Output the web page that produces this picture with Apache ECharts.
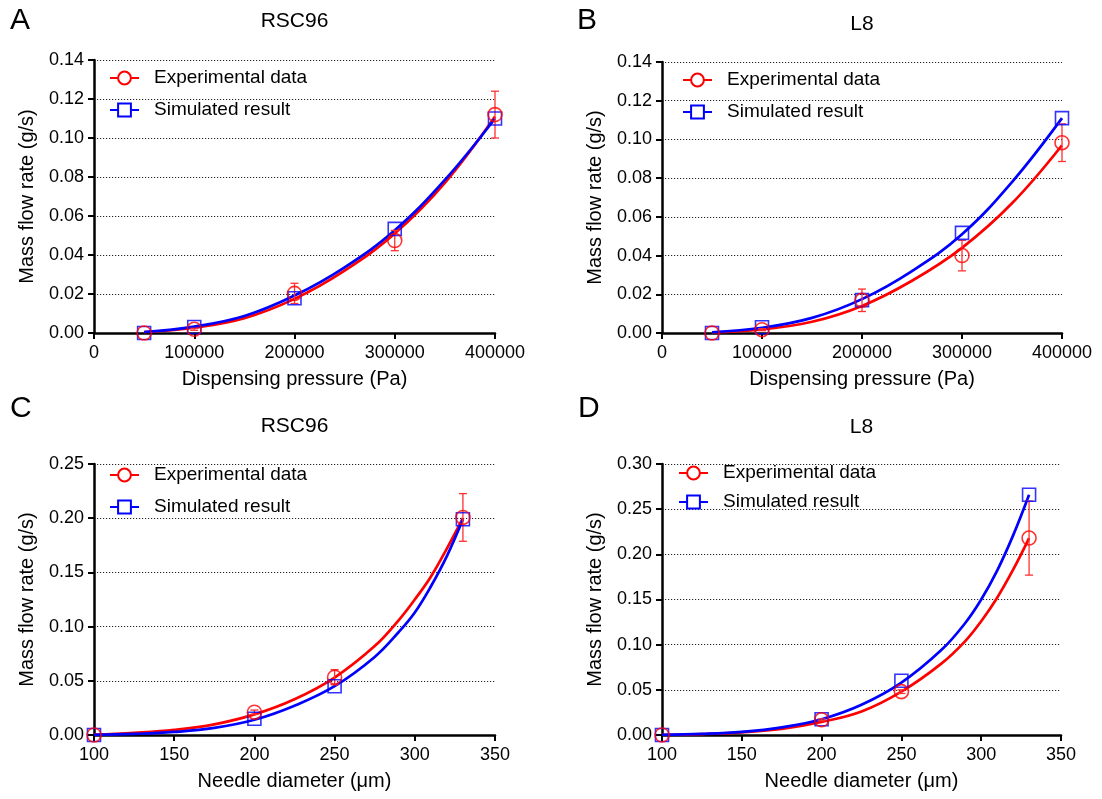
<!DOCTYPE html>
<html>
<head>
<meta charset="utf-8">
<script src="https://cdn.jsdelivr.net/npm/echarts@6/dist/echarts.min.js"></script>
<style>
html,body{margin:0;padding:0;background:#fff;}
#chart{width:1102px;height:799px;}
</style>
</head>
<body>
<div id="chart"></div>
<script>
// ---------- DATA ----------
const seriesNames = ['Experimental data', 'Simulated result'];
const panelLetters = ['A', 'B', 'C', 'D'];
const panelTitles = ['RSC96', 'L8', 'RSC96', 'L8'];

// Panels A & B : dispensing pressure (Pa)
const pressure = [50000, 100000, 200000, 300000, 400000];
const pressureFitX = [50000, 100000, 150000, 200000, 250000, 300000, 350000, 400000];

const rscPressExp = [0, 0.0019, 0.0203, 0.0474, 0.112];
const rscPressExpSD = [0, 0.0005, 0.0052, 0.0052, 0.012];
const rscPressSim = [0, 0.0031, 0.0178, 0.0534, 0.110];
const rscPressExpFit = [0.0004, 0.0027, 0.0076, 0.0175, 0.032, 0.051, 0.077, 0.111];
const rscPressSimFit = [0.0005, 0.0033, 0.0087, 0.0192, 0.0337, 0.0527, 0.0785, 0.110];

const l8PressExp = [0, 0.0017, 0.0169, 0.040, 0.0983];
const l8PressExpSD = [0, 0.0005, 0.0058, 0.0079, 0.0097];
const l8PressSim = [0, 0.003, 0.017, 0.0517, 0.111];
const l8PressExpFit = [0.0003, 0.0018, 0.0058, 0.014, 0.027, 0.044, 0.067, 0.097];
const l8PressSimFit = [0.0004, 0.0027, 0.0078, 0.0175, 0.032, 0.051, 0.078, 0.111];

// Panels C & D : needle diameter (um)
const diameter = [100, 200, 250, 330];
const diameterFitX = [100, 125, 150, 175, 200, 225, 250, 275, 290, 300, 310, 320, 330];

const rscDiaExp = [0, 0.021, 0.0533, 0.2007];
const rscDiaExpSD = [0, 0.002, 0.007, 0.022];
const rscDiaSim = [0, 0.015, 0.045, 0.199];
const rscDiaExpFit = [0.0003, 0.002, 0.0047, 0.0098, 0.019, 0.033, 0.053, 0.082, 0.106, 0.125, 0.146, 0.172, 0.200];
const rscDiaSimFit = [0.0002, 0.001, 0.0028, 0.0065, 0.014, 0.027, 0.045, 0.072, 0.095, 0.113, 0.137, 0.165, 0.199];

const l8DiaExp = [0, 0.0168, 0.048, 0.218];
const l8DiaExpSD = [0, 0.001, 0.002, 0.041];
const l8DiaSim = [0, 0.0175, 0.060, 0.266];
const l8DiaExpFit = [0.0001, 0.001, 0.003, 0.0068, 0.0145, 0.026, 0.048, 0.079, 0.104, 0.126, 0.152, 0.183, 0.218];
const l8DiaSimFit = [0.0002, 0.0012, 0.0035, 0.0085, 0.0175, 0.0335, 0.058, 0.094, 0.124, 0.150, 0.182, 0.221, 0.266];

// ---------- LAYOUT / STYLE ----------
const FONT = '"Liberation Sans", Arial, sans-serif';
const RED = '#ff0000';
const BLUE = '#0000ff';

const panels = [
  { grid: {left: 94, top: 60, width: 401, height: 273},
    x: {min: 0, max: 400000, interval: 100000, name: 'Dispensing pressure (Pa)'},
    y: {min: 0, max: 0.14, interval: 0.02},
    px: pressure, fx: pressureFitX,
    exp: rscPressExp, sd: rscPressExpSD, sim: rscPressSim, expFit: rscPressExpFit, simFit: rscPressSimFit,
    legend: {left: 109, top: 68, gap: 12}, title: {y: 21}, letter: {x: 10, y: 21} },
  { grid: {left: 662, top: 62, width: 400, height: 271},
    x: {min: 0, max: 400000, interval: 100000, name: 'Dispensing pressure (Pa)'},
    y: {min: 0, max: 0.14, interval: 0.02},
    px: pressure, fx: pressureFitX,
    exp: l8PressExp, sd: l8PressExpSD, sim: l8PressSim, expFit: l8PressExpFit, simFit: l8PressSimFit,
    legend: {left: 682, top: 70, gap: 12}, title: {y: 24}, letter: {x: 577, y: 21} },
  { grid: {left: 94, top: 464, width: 401, height: 271},
    x: {min: 100, max: 350, interval: 50, name: 'Needle diameter (\u03bcm)'},
    y: {min: 0, max: 0.25, interval: 0.05},
    px: diameter, fx: diameterFitX,
    exp: rscDiaExp, sd: rscDiaExpSD, sim: rscDiaSim, expFit: rscDiaExpFit, simFit: rscDiaSimFit,
    legend: {left: 109, top: 465, gap: 12}, title: {y: 426}, letter: {x: 10, y: 409} },
  { grid: {left: 662, top: 464, width: 399, height: 271},
    x: {min: 100, max: 350, interval: 50, name: 'Needle diameter (\u03bcm)'},
    y: {min: 0, max: 0.30, interval: 0.05},
    px: diameter, fx: diameterFitX,
    exp: l8DiaExp, sd: l8DiaExpSD, sim: l8DiaSim, expFit: l8DiaExpFit, simFit: l8DiaSimFit,
    legend: {left: 678, top: 463, gap: 9}, title: {y: 427}, letter: {x: 578, y: 409} }
];

const zip = (xs, ys) => xs.map((x, i) => [x, ys[i]]);

const grids = [], xAxes = [], yAxes = [], series = [], legends = [], graphics = [];

panels.forEach((p, i) => {
  grids.push(Object.assign({containLabel: false}, p.grid));
  const axisLine = {show: true, onZero: false, lineStyle: {color: '#000', width: 2.5}};
  const axisTick = {show: true, inside: false, length: 6, lineStyle: {color: '#000', width: 2}};
  xAxes.push({
    type: 'value', gridIndex: i, min: p.x.min, max: p.x.max, interval: p.x.interval,
    name: p.x.name, nameLocation: 'middle', nameGap: 36,
    nameTextStyle: {fontFamily: FONT, fontSize: 20, color: '#000'},
    axisLine, axisTick,
    axisLabel: {margin: 11, fontFamily: FONT, fontSize: 18, color: '#000', formatter: v => String(v)},
    splitLine: {show: false}
  });
  yAxes.push({
    type: 'value', gridIndex: i, min: p.y.min, max: p.y.max, interval: p.y.interval,
    name: 'Mass flow rate (g/s)', nameLocation: 'middle', nameGap: 57,
    nameTextStyle: {fontFamily: FONT, fontSize: 20, color: '#000'},
    axisLine, axisTick,
    axisLabel: {margin: 10, fontFamily: FONT, fontSize: 18, color: '#000', formatter: v => v.toFixed(2)},
    splitLine: {show: true, lineStyle: {color: '#222', width: 1, type: [1.2, 1.8]}}
  });

  // fitted curves (named for legend)
  series.push({
    name: seriesNames[0], type: 'line', xAxisIndex: i, yAxisIndex: i,
    data: zip(p.fx, p.expFit), smooth: 0.4,
    symbol: 'emptyCircle', symbolSize: 13, showSymbol: false,
    lineStyle: {color: RED, width: 2.7}, itemStyle: {color: RED}, z: 3, silent: true
  });
  series.push({
    name: seriesNames[1], type: 'line', xAxisIndex: i, yAxisIndex: i,
    data: zip(p.fx, p.simFit), smooth: 0.4,
    symbol: 'emptyRect', symbolSize: 13, showSymbol: false,
    lineStyle: {color: BLUE, width: 2.7}, itemStyle: {color: BLUE}, z: 3, silent: true
  });
  // error bars
  series.push({
    name: 'err' + i, type: 'custom', xAxisIndex: i, yAxisIndex: i,
    data: p.px.map((x, k) => [x, p.exp[k], p.sd[k]]),
    encode: {x: 0, y: 1}, z: 4, silent: true, clip: false,
    renderItem: (params, api) => {
      const x = api.value(0), y = api.value(1), e = api.value(2);
      if (!e) return null;
      const top = api.coord([x, y + e]), bot = api.coord([x, y - e]);
      const w = 4;
      const st = {stroke: '#ff3030', lineWidth: 1.3};
      return {type: 'group', children: [
        {type: 'line', shape: {x1: top[0], y1: top[1], x2: bot[0], y2: bot[1]}, style: st},
        {type: 'line', shape: {x1: top[0] - w, y1: top[1], x2: top[0] + w, y2: top[1]}, style: st},
        {type: 'line', shape: {x1: bot[0] - w, y1: bot[1], x2: bot[0] + w, y2: bot[1]}, style: st}
      ]};
    }
  });
  // markers
  series.push({
    name: 'simPts' + i, type: 'scatter', xAxisIndex: i, yAxisIndex: i,
    data: zip(p.px, p.sim), symbol: 'rect', symbolSize: 13, clip: false, z: 5, silent: true,
    itemStyle: {color: 'rgba(255,255,255,0)', borderColor: BLUE, borderWidth: 1.6}
  });
  series.push({
    name: 'expPts' + i, type: 'scatter', xAxisIndex: i, yAxisIndex: i,
    data: zip(p.px, p.exp), symbol: 'circle', symbolSize: 14, clip: false, z: 6, silent: true,
    itemStyle: {color: 'rgba(255,255,255,0)', borderColor: RED, borderWidth: 1.6}
  });

  legends.push({
    data: seriesNames, orient: 'vertical', left: p.legend.left, top: p.legend.top,
    padding: 0, itemGap: p.legend.gap, itemWidth: 29, itemHeight: 16, selectedMode: false,
    textStyle: {fontFamily: FONT, fontSize: 19, color: '#000', lineHeight: 20, padding: [0, 0, 0, 10]}
  });

  const cx = p.grid.left + p.grid.width / 2;
  graphics.push({
    type: 'text', x: cx, y: p.title.y,
    style: {text: panelTitles[i], font: '21px ' + FONT, fill: '#000', align: 'center', verticalAlign: 'middle'}
  });
  graphics.push({
    type: 'text', x: p.letter.x, y: p.letter.y,
    style: {text: panelLetters[i], font: '30px ' + FONT, fill: '#000', align: 'left', verticalAlign: 'middle'}
  });
});

const chart = echarts.init(document.getElementById('chart'), null, {renderer: 'canvas'});
chart.setOption({
  animation: false,
  backgroundColor: '#fff',
  grid: grids, xAxis: xAxes, yAxis: yAxes,
  legend: legends, series, graphic: graphics
});
</script>
</body>
</html>
